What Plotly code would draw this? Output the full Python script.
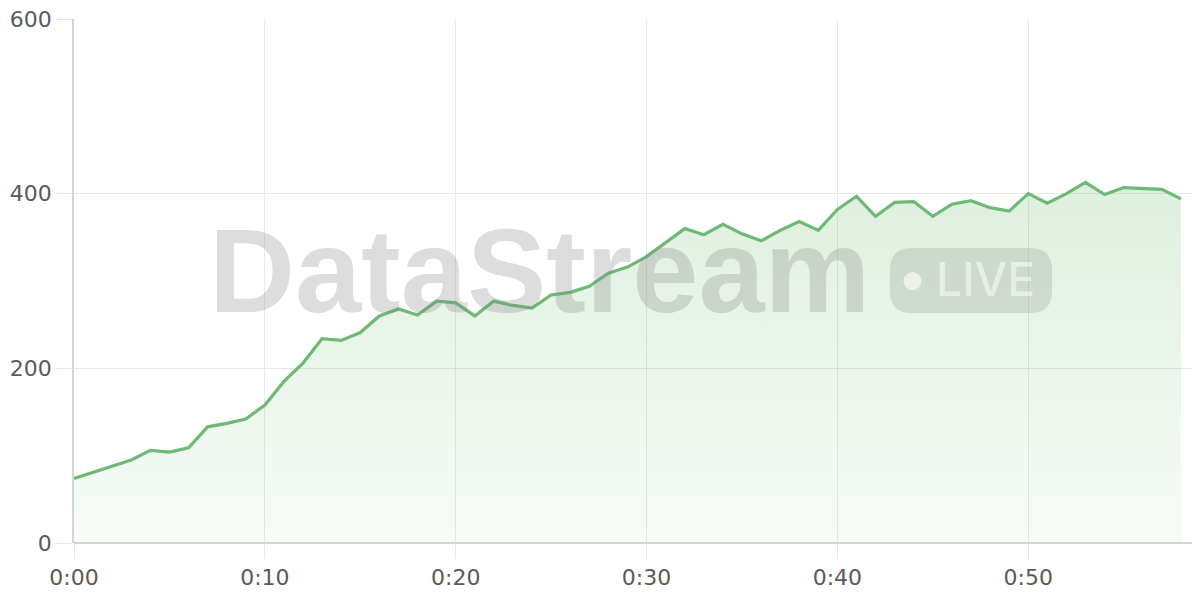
import plotly.graph_objects as go

# minutes since start and the streamed value at each minute
minutes = list(range(59))
values = [74, 81, 88, 95, 106, 104, 109, 133, 137, 142,
          158, 185, 206, 234, 232, 241, 260, 268, 261, 277,
          275, 260, 277, 272, 269, 284, 287, 294, 309, 316,
          328, 344, 360, 353, 365, 354, 346, 358, 368, 358,
          382, 397, 374, 390, 391, 374, 388, 392, 384, 380,
          400, 389, 400, 413, 399, 407, 406, 405, 394]

x_tick_vals = [0, 10, 20, 30, 40, 50]
x_tick_text = ["0:00", "0:10", "0:20", "0:30", "0:40", "0:50"]
y_tick_vals = [0, 200, 400, 600]

line_green = "rgb(110,185,118)"
grid_grey = "#e8e8e8"
label_font = dict(family="DejaVu Sans", size=22, color="#5a5a5a")

fig = go.Figure()
fig.add_trace(go.Scatter(
    x=minutes, y=values,
    mode="lines",
    line=dict(color=line_green, width=3.2),
    fill="tozeroy",
    fillgradient=dict(type="vertical",
                      colorscale=[[0, "rgba(120,190,120,0.06)"],
                                  [1, "rgba(120,190,120,0.24)"]]),
    showlegend=False,
    hoverinfo="x+y",
))

# watermark: "DataStream" word plus a rounded "LIVE" badge
x0, x1, y0, y1 = 0.7247, 0.8686, 0.439, 0.563
rx, ry = 0.0195, 0.042
badge = (f"M {x0+rx},{y0} L {x1-rx},{y0} Q {x1},{y0} {x1},{y0+ry} "
         f"L {x1},{y1-ry} Q {x1},{y1} {x1-rx},{y1} L {x0+rx},{y1} "
         f"Q {x0},{y1} {x0},{y1-ry} L {x0},{y0+ry} Q {x0},{y0} {x0+rx},{y0} Z")
fig.add_shape(type="path", path=badge, xref="paper", yref="paper",
              fillcolor="rgba(110,120,110,0.2)", line=dict(width=0), layer="above")
# the small dot inside the badge
fig.add_shape(type="circle", xref="paper", yref="paper",
              x0=0.7367, x1=0.7527, y0=0.4826, y1=0.5170,
              fillcolor="rgba(255,255,255,0.6)", line=dict(width=0), layer="above")

fig.add_annotation(text="DataStream", xref="paper", yref="paper",
                   x=0.413, y=0.52, xanchor="center", yanchor="middle",
                   showarrow=False,
                   font=dict(family="Liberation Sans", size=119, weight="bold",
                             color="rgba(128,128,128,0.27)"))
fig.add_annotation(text="LIVE", xref="paper", yref="paper",
                   x=0.7637, y=0.503, xanchor="left", yanchor="middle",
                   showarrow=False,
                   font=dict(family="Inter", size=46, weight=500,
                             color="rgba(255,255,255,0.55)"))

fig.update_xaxes(range=[0, 59], tickvals=x_tick_vals, ticktext=x_tick_text,
                 showgrid=True, gridcolor=grid_grey, gridwidth=1,
                 ticks="outside", ticklen=15, tickcolor=grid_grey,
                 showline=False, zeroline=False, automargin=False,
                 ticklabeloverflow="allow", tickfont=label_font)
fig.update_yaxes(range=[0, 600], tickvals=y_tick_vals,
                 showgrid=True, gridcolor=grid_grey, gridwidth=1,
                 ticks="outside", ticklen=16, tickcolor=grid_grey,
                 showline=True, linecolor="#d4d4d4", linewidth=1.5,
                 zeroline=True, zerolinecolor="#d4d4d4", zerolinewidth=1.5,
                 automargin=False, ticklabeloverflow="allow", tickfont=label_font)

# the page body adds an 8px offset, so the figure is sized to fit the window
fig.update_layout(width=1192, height=592,
                  margin=dict(l=66, r=0, t=11, b=57),
                  plot_bgcolor="white", paper_bgcolor="white")

fig.write_html("out.html")
